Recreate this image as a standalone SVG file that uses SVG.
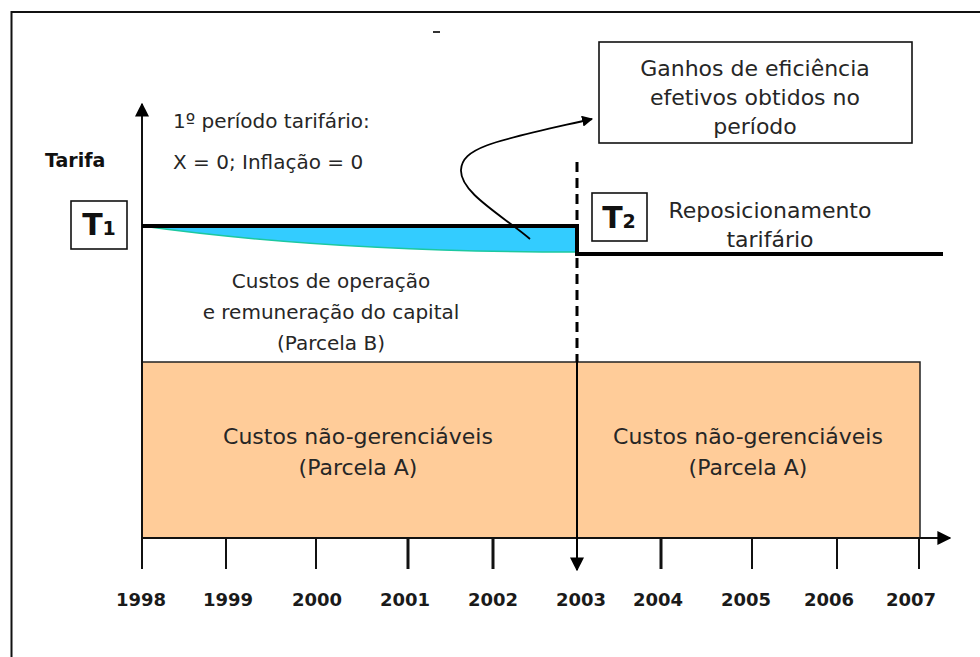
<svg xmlns="http://www.w3.org/2000/svg" width="980" height="657" viewBox="0 0 980 657">
<defs>
<style>
.t{font-family:"DejaVu Sans","Liberation Sans",sans-serif;font-size:20px;fill:#262626;text-anchor:middle}
.tl{font-family:"DejaVu Sans","Liberation Sans",sans-serif;font-size:22px;fill:#262626;text-anchor:middle}
.ts{font-family:"DejaVu Sans","Liberation Sans",sans-serif;font-size:20px;fill:#262626}
.yr{font-family:"DejaVu Sans","Liberation Sans",sans-serif;font-size:18px;font-weight:bold;fill:#1a1a1a;text-anchor:middle}
.big{font-family:"DejaVu Sans","Liberation Sans",sans-serif;font-size:30px;font-weight:bold;fill:#111;text-anchor:middle}
.box{fill:#fff;stroke:#111;stroke-width:1.6}
.tick{stroke:#111;stroke-width:2}
.tickb{stroke:#111;stroke-width:3}
</style>
<marker id="ah" viewBox="0 0 10 10" refX="9" refY="5" markerWidth="14" markerHeight="14" markerUnits="userSpaceOnUse" orient="auto">
<path d="M0,0 L10,5 L0,10 z" fill="#000"/>
</marker>
<marker id="ahs" viewBox="0 0 10 10" refX="9" refY="5" markerWidth="11" markerHeight="11" markerUnits="userSpaceOnUse" orient="auto">
<path d="M0,0 L10,5 L0,10 z" fill="#000"/>
</marker>
</defs>
<rect width="980" height="657" fill="#fff"/>
<path d="M11.5,657 V12 H980" fill="none" stroke="#111" stroke-width="2"/>
<line x1="433" y1="32" x2="440" y2="32" stroke="#333" stroke-width="2"/>

<g id="parcela-a">
<rect x="142" y="362" width="778" height="176" fill="#FFCC99" stroke="#222" stroke-width="1.5"/>
<text class="tl" x="358" y="444">Custos não-gerenciáveis</text>
<text class="tl" x="358" y="475">(Parcela A)</text>
<text class="tl" x="748" y="444">Custos não-gerenciáveis</text>
<text class="tl" x="748" y="475">(Parcela A)</text>
</g>

<g id="ganho">
<path d="M142,226 L577,227 L577,252 Q330,252 142,226 z" fill="#33CCFF"/>
<path d="M142,226 Q330,252 577,252" fill="none" stroke="#1CC8A0" stroke-width="1.5"/>
</g>

<g id="axes">
<line x1="142" y1="569" x2="142" y2="104" stroke="#111" stroke-width="2" marker-end="url(#ah)"/>
<line x1="142" y1="538" x2="950" y2="538" stroke="#111" stroke-width="2" marker-end="url(#ah)"/>
<line class="tick" x1="226" y1="538" x2="226" y2="569"/>
<line class="tick" x1="316" y1="538" x2="316" y2="569"/>
<line class="tickb" x1="408" y1="538" x2="408" y2="569"/>
<line class="tickb" x1="493" y1="538" x2="493" y2="569"/>
<line class="tickb" x1="661" y1="538" x2="661" y2="569"/>
<line class="tick" x1="752" y1="538" x2="752" y2="569"/>
<line class="tick" x1="837" y1="538" x2="837" y2="569"/>
<line class="tick" x1="919" y1="538" x2="919" y2="569"/>
<text class="ts" x="45" y="167" style="font-weight:bold;font-size:19px;fill:#111">Tarifa</text>
<text class="yr" x="141" y="606">1998</text>
<text class="yr" x="228" y="606">1999</text>
<text class="yr" x="317" y="606">2000</text>
<text class="yr" x="405" y="606">2001</text>
<text class="yr" x="493" y="606">2002</text>
<text class="yr" x="581" y="606">2003</text>
<text class="yr" x="658" y="606">2004</text>
<text class="yr" x="746" y="606">2005</text>
<text class="yr" x="829" y="606">2006</text>
<text class="yr" x="911" y="606">2007</text>
</g>

<g id="tarifa-line">
<path d="M142,226 H577 V254 H943" fill="none" stroke="#000" stroke-width="4"/>
</g>

<g id="t1">
<rect class="box" x="71" y="201" width="56" height="48"/>
<text class="big" x="99" y="235">T<tspan style="font-size:19px">1</tspan></text>
</g>

<g id="t2">
<rect class="box" x="592" y="193" width="55" height="48"/>
<text class="big" x="619" y="228">T<tspan style="font-size:19px">2</tspan></text>
</g>

<g id="periodo">
<text class="ts" x="173" y="128">1º período tarifário:</text>
<text class="ts" x="173" y="169">X = 0; Inflação = 0</text>
</g>

<g id="parcela-b">
<text class="t" x="331" y="288">Custos de operação</text>
<text class="t" x="331" y="319">e remuneração do capital</text>
<text class="t" x="331" y="350">(Parcela B)</text>
</g>

<g id="reposicionamento">
<text class="tl" x="770" y="218">Reposicionamento</text>
<text class="tl" x="770" y="247">tarifário</text>
</g>

<g id="ganhos-box">
<rect class="box" x="599" y="42" width="313" height="101"/>
<text class="tl" x="755" y="76">Ganhos de eficiência</text>
<text class="tl" x="755" y="105">efetivos obtidos no</text>
<text class="tl" x="755" y="134">período</text>
</g>

<g id="connectors">
<line x1="577" y1="162" x2="577" y2="362" stroke="#000" stroke-width="3" stroke-dasharray="10,6"/>
<line x1="577" y1="362" x2="577" y2="570" stroke="#000" stroke-width="2" marker-end="url(#ah)"/>
<path d="M530,239 C500,214 460,192 461,170 C462,146 500,140 592,119" fill="none" stroke="#000" stroke-width="1.8" marker-end="url(#ahs)"/>
</g>
</svg>
